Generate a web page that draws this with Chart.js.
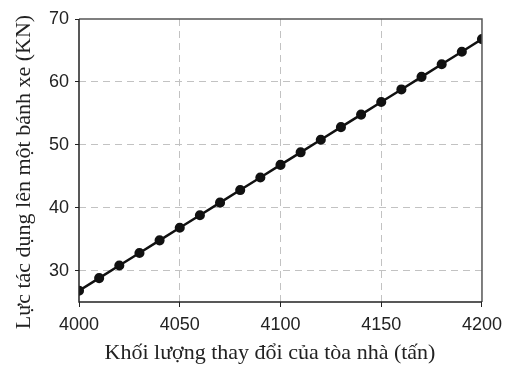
<!DOCTYPE html>
<html>
<head>
<meta charset="utf-8">
<script src="https://cdn.jsdelivr.net/npm/chart.js@4/dist/chart.umd.min.js"></script>
<style>
  html, body { margin: 0; padding: 0; background: #fff; }
  #wrap { width: 509px; height: 365px; }
</style>
</head>
<body>
<div id="wrap"><canvas id="myChart"></canvas></div>
<script>
// values
const massTons = [4000, 4010, 4020, 4030, 4040, 4050, 4060, 4070, 4080, 4090, 4100,
                  4110, 4120, 4130, 4140, 4150, 4160, 4170, 4180, 4190, 4200];
const forceKN = [26.8, 28.8, 30.8, 32.8, 34.8, 36.8, 38.8, 40.8, 42.8, 44.8, 46.8,
                 48.8, 50.8, 52.8, 54.8, 56.8, 58.8, 60.8, 62.8, 64.8, 66.8];
const xTicks = [4000, 4050, 4100, 4150, 4200];
const yTicks = [30, 40, 50, 60, 70];
const xTitle = "Khối lượng thay đổi của tòa nhà (tấn)";
const yTitle = "Lực tác dụng lên một bánh xe (KN)";

const tickFont = { family: "'Liberation Sans', Arial, sans-serif", size: 18 };
const gridColor = (c) => (c.tick && (c.tick.value === 4000 || c.tick.value === 4200 || c.tick.value === 70)) ? "rgba(0,0,0,0)" : "#c2c2c2";

// frame + axis titles
const framePlugin = {
  id: "frame",
  afterDraw(chart) {
    const { ctx, chartArea: a } = chart;
    ctx.save();
    ctx.lineWidth = 1.5;
    ctx.strokeStyle = "#555";
    ctx.beginPath();
    ctx.moveTo(a.left, a.top);
    ctx.lineTo(a.right, a.top);
    ctx.lineTo(a.right, a.bottom);
    ctx.stroke();
    ctx.strokeStyle = "#222";
    ctx.beginPath();
    ctx.moveTo(a.left, a.top);
    ctx.lineTo(a.left, a.bottom);
    ctx.lineTo(a.right, a.bottom);
    ctx.stroke();

    // the scan cuts the bottom of the x labels under the title
    ctx.fillStyle = "#fff";
    ctx.fillRect(45, 330, 464, 11);

    ctx.fillStyle = "#222";
    ctx.font = "22px 'Liberation Serif', 'Times New Roman', serif";
    ctx.textAlign = "center";
    ctx.textBaseline = "alphabetic";
    ctx.fillText(xTitle, 270, 359);
    ctx.translate(30, 172);
    ctx.rotate(-Math.PI / 2);
    ctx.fillText(yTitle, 0, 0);
    ctx.restore();
  }
};

new Chart("myChart", {
  type: "line",
  data: {
    datasets: [{
      data: massTons.map((m, i) => ({ x: m, y: forceKN[i] })),
      borderColor: "#111",
      backgroundColor: "#111",
      borderWidth: 2.5,
      pointRadius: 3.8,
      pointHoverRadius: 3.8,
      tension: 0
    }]
  },
  options: {
    responsive: true,
    maintainAspectRatio: false,
    animation: false,
    layout: { padding: { left: 0, right: 21, top: 19, bottom: 0 } },
    plugins: { legend: { display: false }, tooltip: { enabled: false } },
    scales: {
      x: {
        type: "linear",
        min: 4000,
        max: 4200,
        afterBuildTicks: (s) => { s.ticks = xTicks.map((v) => ({ value: v })); },
        afterFit: (s) => { s.height = 63; },
        ticks: { font: tickFont, color: "#222", padding: 7, maxRotation: 0, callback: (v) => String(v) },
        grid: { color: gridColor, lineWidth: 1, tickLength: 5, tickColor: "#222", tickBorderDash: [] },
        border: { display: false, dash: [7, 5] }
      },
      y: {
        min: 25,
        max: 70,
        afterBuildTicks: (s) => { s.ticks = yTicks.map((v) => ({ value: v })); },
        afterFit: (s) => { s.width = 79; },
        ticks: { font: tickFont, color: "#222", padding: 6, callback: (v) => String(v) },
        grid: { color: gridColor, lineWidth: 1, tickLength: 4, tickColor: "#222", tickBorderDash: [] },
        border: { display: false, dash: [7, 5] }
      }
    }
  },
  plugins: [framePlugin]
});
</script>
</body>
</html>
